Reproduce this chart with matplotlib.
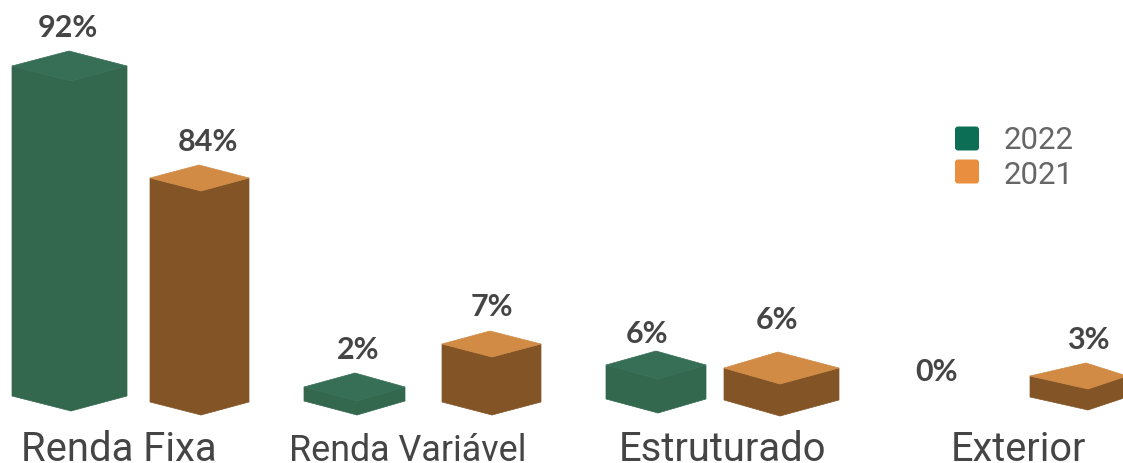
import matplotlib
matplotlib.use('Agg')
import matplotlib.pyplot as plt
from matplotlib.patches import Polygon, FancyBboxPatch

categories = ['Renda Fixa', 'Renda Variável', 'Estruturado', 'Exterior']
values_2022 = [92, 2, 6, 0]
values_2021 = [84, 7, 6, 3]
series_names = ['2022', '2021']

# heights as drawn in the picture, it is not a linear scale
drawn_2022 = [330, 14, 34, 0]
drawn_2021 = [224, 58, 32, 21]

# left, right, front edge x, base y, depth of the top face
boxes_2022 = [(12, 127, 71, 412, 15), (304, 405, 357, 416, 14), (606, 706, 658, 414, 14), None]
boxes_2021 = [(150, 249, 201, 416, 13), (442, 541, 492, 416, 13), (724, 839, 780, 417, 16), (1030, 1127, 1088, 411, 13)]
label_2022 = [(68, 28), (358, 350), (647, 334), (936, 372)]
label_2021 = [(208, 142), (492, 307), (777, 320), (1088, 340)]
cat_pos = [(119, 461, 28.8), (408, 461, 25.8), (723, 461, 28.8), (1019, 461, 28.6)]

green = ('#376e56', '#33684f')
orange = ('#d18b45', '#835526')
text_col = '#454545'


def box(ax, geom, height, cols):
    left, right, mid, base, d = geom
    front = base - height
    ax.add_patch(Polygon([(left, front - d), (mid, front), (mid, base), (left, base - d)], fc=cols[1], ec=cols[1], lw=0.5))
    ax.add_patch(Polygon([(mid, front), (right, front - d), (right, base - d), (mid, base)], fc=cols[1], ec=cols[1], lw=0.5))
    ax.add_patch(Polygon([(left, front - d), (mid - 2, front - 2 * d), (right, front - d), (mid, front)], fc=cols[0], ec=cols[0], lw=0.5))


fig = plt.figure(figsize=(11.23, 4.64), dpi=100)
ax = fig.add_axes([0, 0, 1, 1])
ax.set_xlim(0, 1123)
ax.set_ylim(464, 0)
ax.axis('off')

for i in range(len(categories)):
    if boxes_2022[i] is not None:
        box(ax, boxes_2022[i], drawn_2022[i], green)
    box(ax, boxes_2021[i], drawn_2021[i], orange)
    ax.text(label_2022[i][0], label_2022[i][1], '%d%%' % values_2022[i], family='Lato', weight='bold',
            fontsize=22, color=text_col, ha='center', va='center')
    ax.text(label_2021[i][0], label_2021[i][1], '%d%%' % values_2021[i], family='Lato', weight='bold',
            fontsize=22, color=text_col, ha='center', va='center')
    x, y, fs = cat_pos[i]
    ax.text(x, y, categories[i], family='Roboto', fontsize=fs, color=text_col, ha='center', va='baseline')

# legend
for name, col, y, ty in zip(series_names, ['#0b6e55', '#e98e3f'], [139.5, 172.5], [141, 176]):
    ax.add_patch(FancyBboxPatch((955, y - 12), 24, 24, boxstyle='round,pad=0,rounding_size=3', fc=col, ec='none'))
    ax.text(1004, ty, name, family='Roboto', fontsize=22.5, color='#666666', ha='left', va='center')

fig.savefig('out.png', dpi=100)
